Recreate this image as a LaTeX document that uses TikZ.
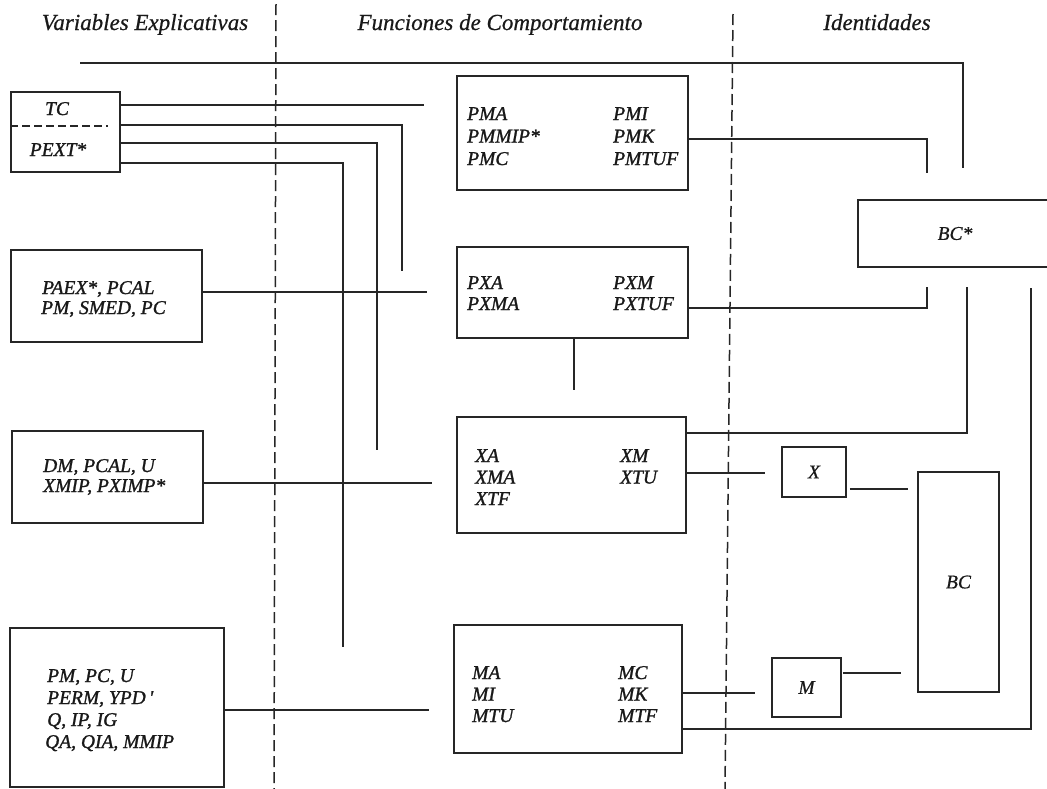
\documentclass[tikz,border=0pt]{standalone}
\usepackage{fontspec}
\setmainfont{Liberation Serif}
\newfontfamily\heavyserif[FakeBold=1.2]{Liberation Serif}
\newfontfamily\medserif[FakeBold=0.6]{Liberation Serif}
\begin{document}
\begin{tikzpicture}[x=1pt,y=-1pt,
  line/.style={draw=black!85, line width=1.8pt},
  box/.style={draw=black!85, line width=1.8pt, inner sep=0pt, text=black!90,
    font=\medserif\fontsize{19.5}{22}\selectfont\itshape},
  divider/.style={draw=black!85, line width=1.5pt, dash pattern=on 11pt off 5pt},
  subdiv/.style={draw=black!85, line width=1.4pt, dash pattern=on 8pt off 4pt},
  hdr/.style={font=\medserif\fontsize{23}{26}\selectfont\itshape, anchor=base, inner sep=0pt, text=black!90},
  lbl/.style={font=\heavyserif\fontsize{19.5}{22}\selectfont\itshape, anchor=base west, inner sep=0pt, text=black!90},
  clbl/.style={font=\heavyserif\fontsize{19.5}{22}\selectfont\itshape, anchor=base, inner sep=0pt, text=black!90}
]
\clip (0,0) rectangle (1047,788);
\fill[white] (0,0) rectangle (1047,788);

% column dividers
\coordinate (d1t) at (276,4);
\coordinate (d1b) at (274,790);
\coordinate (d2t) at (733,14);
\coordinate (d2b) at (725,790);
\draw[divider] (d1t) -- (d1b);
\draw[divider] (d2t) -- (d2b);

% headers
\node[hdr] (h1) at (145,30) {Variables Explicativas};
\node[hdr] (h2) at (500,30) {Funciones de Comportamiento};
\node[hdr] (h3) at (877,30) {Identidades};

% left boxes
\node[box, minimum width=109, minimum height=80] (tc) at (65.5,132) {};
\node[box, minimum width=191, minimum height=92] (paex) at (106.5,296) {};
\node[box, minimum width=191, minimum height=92] (dm) at (107.5,477) {};
\node[box, minimum width=214, minimum height=159] (pmbox) at (117,707.5) {};

% middle boxes
\node[box, minimum width=231, minimum height=114] (pma) at (572.5,133) {};
\node[box, minimum width=231, minimum height=91] (pxa) at (572.5,292.5) {};
\node[box, minimum width=229, minimum height=116] (xa) at (571.5,475) {};
\node[box, minimum width=228, minimum height=128] (ma) at (568,689) {};

% identity boxes
\node[box, minimum width=194, minimum height=67] (bcs) at (955,233.5) {BC*};
\node[box, minimum width=64, minimum height=50] (xb) at (814,472) {X};
\node[box, minimum width=69, minimum height=59] (mb) at (806.5,687.5) {M};
\node[box, minimum width=81, minimum height=220] (bc) at (958.5,582) {BC};

% TC / PEXT box content
\draw[subdiv, shorten >=13pt] (tc.west |- 0,126) -- (tc.east |- 0,126);
\node[clbl] (tcA) at (57,115) {TC};
\node[clbl] (tcB) at (58,156) {PEXT*};

% left box texts
\node[lbl] (paexA) at (42,294) {PAEX*, PCAL};
\node[lbl] (paexB) at (41,314) {PM, SMED, PC};
\node[lbl] (dmA) at (43,472) {DM, PCAL, U};
\node[lbl] (dmB) at (43,492) {XMIP, PXIMP*};
\node[lbl] (pmA) at (47,682) {PM, PC, U};
\node[lbl] (pmB) at (47,704) {PERM, YPD\,'};
\node[lbl] (pmC) at (47,726) {Q, IP, IG};
\node[lbl] (pmD) at (45,748) {QA, QIA, MMIP};

% middle box texts
\foreach \t [count=\i] in {PMA, PMMIP*, PMC} \node[lbl] (pmaL\i) at (467, 97.5+22.5*\i) {\t};
\foreach \t [count=\i] in {PMI, PMK, PMTUF} \node[lbl] (pmaR\i) at (613, 97.5+22.5*\i) {\t};
\foreach \t [count=\i] in {PXA, PXMA} \node[lbl] (pxaL\i) at (467, 268+21*\i) {\t};
\foreach \t [count=\i] in {PXM, PXTUF} \node[lbl] (pxaR\i) at (613, 268+21*\i) {\t};
\foreach \t [count=\i] in {XA, XMA, XTF} \node[lbl] (xaL\i) at (475, 440.5+21.5*\i) {\t};
\foreach \t [count=\i] in {XM, XTU} \node[lbl] (xaR\i) at (620, 440.5+21.5*\i) {\t};
\foreach \t [count=\i] in {MA, MI, MTU} \node[lbl] (maL\i) at (472, 657.5+21.5*\i) {\t};
\foreach \t [count=\i] in {MC, MK, MTF} \node[lbl] (maR\i) at (618, 657.5+21.5*\i) {\t};

% top feedback line
\coordinate (fbL) at (80,63);
\coordinate (fbR) at (963,168);
\draw[line] (fbL) -- (fbR |- fbL) -- (fbR);

% lines from TC / PEXT
\draw[line, shorten >=32pt] (tc.east |- 0,105) -- (pma.west |- 0,105);
\coordinate (v1) at (402,271);
\coordinate (v2) at (377,450);
\coordinate (v3) at (343,647);
\draw[line] (tc.east |- 0,125) -- (v1 |- 0,125) -- (v1);
\draw[line] (tc.east |- 0,143) -- (v2 |- 0,143) -- (v2);
\draw[line] (tc.east |- 0,163) -- (v3 |- 0,163) -- (v3);

% inputs to behaviour functions
\draw[line, shorten >=29pt] (paex.east |- 0,292) -- (pxa.west |- 0,292);
\draw[line, shorten >=24pt] (dm.east |- 0,483) -- (xa.west |- 0,483);
\draw[line, shorten >=24pt] (pmbox.east |- 0,710) -- (ma.west |- 0,710);

% outputs
\coordinate (e1) at (927,173);
\coordinate (e2) at (927,287);
\coordinate (e3) at (574,390);
\coordinate (e4) at (967,287);
\coordinate (e5) at (1031,288);
\draw[line] (pma.east |- 0,139) -- (e1 |- 0,139) -- (e1);
\draw[line] (pxa.east |- 0,308) -- (e2 |- 0,308) -- (e2);
\draw[line] (pxa.south -| e3) -- (e3);
\draw[line] (e4) -- (e4 |- 0,433) -- (xa.east |- 0,433);
\draw[line, shorten >=16pt] (xa.east |- 0,473) -- (xb.west |- 0,473);
\draw[line, shorten <=3pt, shorten >=9pt] (xb.east |- 0,489) -- (bc.west |- 0,489);
\draw[line, shorten >=16pt] (ma.east |- 0,693) -- (mb.west |- 0,693);
\draw[line, shorten <=1pt, shorten >=16pt] (mb.east |- 0,673) -- (bc.west |- 0,673);
\draw[line] (e5) -- (e5 |- 0,729) -- (ma.east |- 0,729);
\end{tikzpicture}
\end{document}
